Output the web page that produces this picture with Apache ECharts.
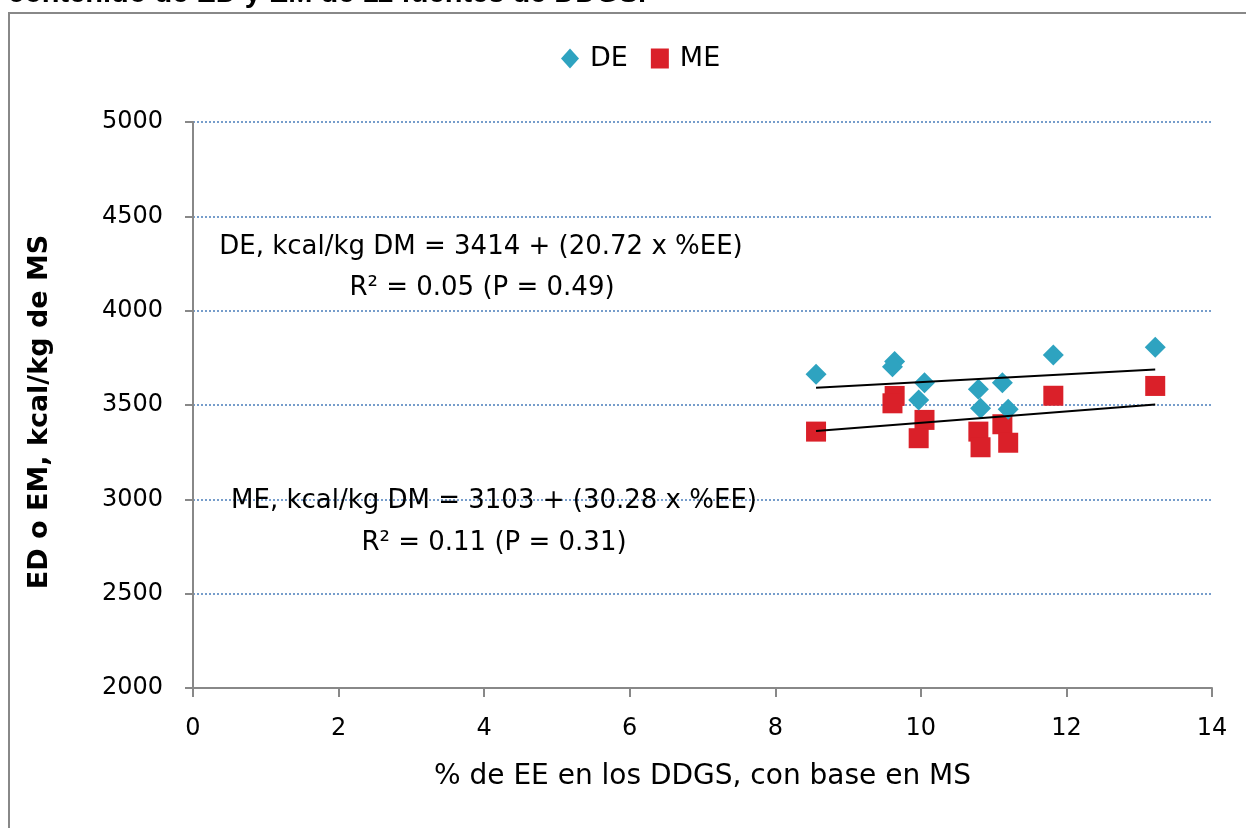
<!DOCTYPE html>
<html>
<head>
<meta charset="utf-8">
<script src="https://cdn.jsdelivr.net/npm/echarts@6/dist/echarts.min.js"></script>
<style>
html,body{margin:0;padding:0;background:#fff;}
#chart{width:1246px;height:828px;}
</style>
</head>
<body>
<div id="chart"></div>
<script>
// Data
var eeValues = [8.56, 9.64, 9.61, 10.05, 9.97, 10.79, 10.82, 11.12, 11.20, 11.82, 13.22];
var deValues = [3663, 3730, 3703, 3618, 3527, 3583, 3483, 3618, 3477, 3765, 3806];
var meValues = [3359, 3548, 3509, 3421, 3324, 3359, 3276, 3398, 3300, 3549, 3601];
var deTrend = [[8.56, 3591], [13.22, 3688]];
var meTrend = [[8.56, 3362], [13.22, 3503]];
var seriesNames = ['DE', 'ME'];
var titleText = 'contenido de ED y EM de 11 fuentes de DDGS.';
var yAxisTitle = 'ED o EM, kcal/kg de MS';
var xAxisTitle = '% de EE en los DDGS, con base en MS';
var deEquation = ['DE, kcal/kg DM = 3414 + (20.72 x %EE)', 'R² = 0.05 (P = 0.49)'];
var meEquation = ['ME, kcal/kg DM = 3103 + (30.28 x %EE)', 'R² = 0.11 (P = 0.31)'];

function pairs(xs, ys){ return xs.map(function(x,i){ return [x, ys[i]]; }); }

var FONT = 'DejaVu Sans';
function eqText(x, y, t){
  return {type: 'text', x: x, y: y, z: 100,
    style: {text: t, fontFamily: FONT, fontSize: 26, fill: '#000', align: 'center', verticalAlign: 'middle'}};
}
var chart = echarts.init(document.getElementById('chart'), null, {renderer:'canvas'});
chart.setOption({
  animation: false,
  backgroundColor: '#fff',
  textStyle: {fontFamily: FONT},
  grid: {left: 193, right: 34, top: 122, bottom: 140},
  legend: {
    top: 40, left: 556, itemGap: 23, itemWidth: 18, itemHeight: 20,
    textStyle: {fontSize: 27, color: '#000', fontFamily: FONT, padding: [0, 0, 0, 6]},
    data: [{name: seriesNames[0], icon: 'diamond'}, {name: seriesNames[1], icon: 'rect'}]
  },
  xAxis: {
    type: 'value', min: 0, max: 14, interval: 2,
    name: xAxisTitle, nameLocation: 'middle', nameGap: 75,
    nameTextStyle: {fontSize: 28, color: '#000', fontFamily: FONT},
    axisLine: {lineStyle: {color: '#888', width: 2}},
    axisTick: {show: true, length: 9, lineStyle: {color: '#888', width: 2}},
    axisLabel: {fontSize: 24, color: '#000', margin: 29, fontFamily: FONT},
    splitLine: {show: false}
  },
  yAxis: {
    type: 'value', min: 2000, max: 5000, interval: 500,
    axisLine: {show: true, lineStyle: {color: '#888', width: 2}},
    axisTick: {show: true, length: 8, lineStyle: {color: '#888', width: 2}},
    axisLabel: {fontSize: 24, color: '#000', margin: 30, fontFamily: FONT,
      formatter: function(v){ return String(v); }},
    splitLine: {show: true, lineStyle: {color: '#4a7ebb', type: [2, 2], width: 1.5}}
  },
  series: [
    {name: seriesNames[0], type: 'scatter', symbol: 'diamond', symbolSize: 21,
     itemStyle: {color: '#2ea3c0', opacity: 1}, data: pairs(eeValues, deValues), z: 3},
    {name: seriesNames[1], type: 'scatter', symbol: 'rect', symbolSize: 20,
     itemStyle: {color: '#da2029', opacity: 1}, data: pairs(eeValues, meValues), z: 2},
    {name: 'DE trend', type: 'line', data: deTrend, symbol: 'none', silent: true,
     lineStyle: {color: '#000', width: 2}, z: 4},
    {name: 'ME trend', type: 'line', data: meTrend, symbol: 'none', silent: true,
     lineStyle: {color: '#000', width: 2}, z: 4}
  ],
  graphic: [
    {type: 'rect', shape: {x: 9, y: 13, width: 1300, height: 900}, silent: true, z: 100,
     style: {fill: 'none', stroke: '#888', lineWidth: 2}},
    {type: 'text', x: 8, y: -6, z: 100,
     style: {text: titleText, fontFamily: '"Liberation Sans", Arial', fontWeight: 'bold', fontSize: 29,
       fill: '#000', verticalAlign: 'middle'}},
    {type: 'text', x: 40, y: 412, rotation: Math.PI / 2, z: 100,
     style: {text: yAxisTitle, fontFamily: FONT, fontWeight: 'bold', fontSize: 27,
       fill: '#000', align: 'center', verticalAlign: 'middle'}},
    eqText(481, 247, deEquation[0]),
    eqText(482, 288, deEquation[1]),
    eqText(494, 501, meEquation[0]),
    eqText(494, 543, meEquation[1])
  ]
});
</script>
</body>
</html>
